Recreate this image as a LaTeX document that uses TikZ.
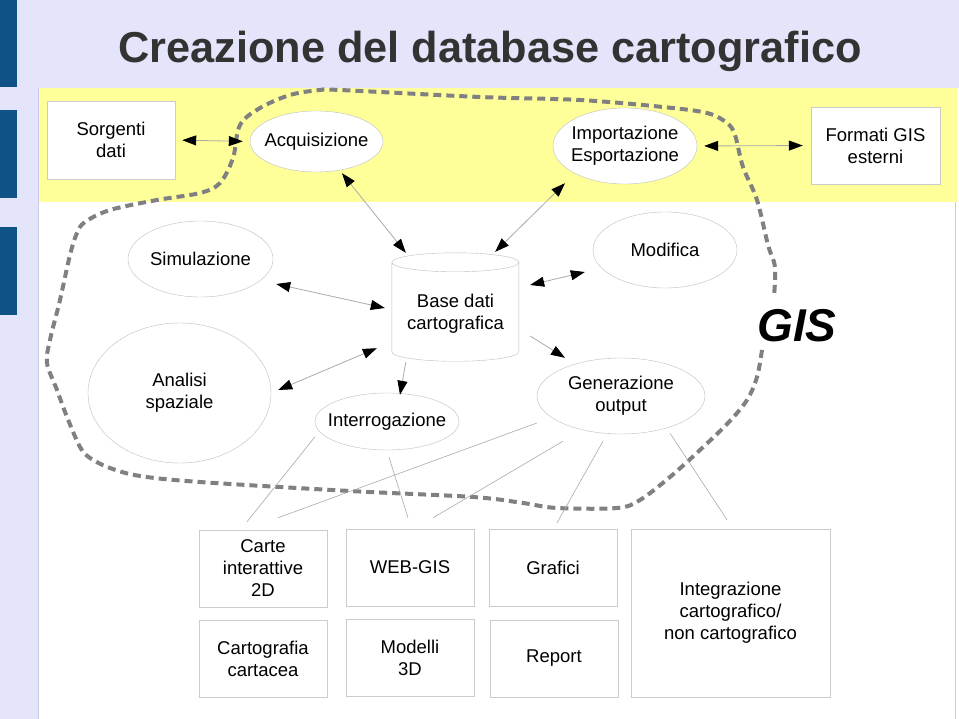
\documentclass[tikz,border=0pt]{standalone}
\usepackage{fontspec}
\setmainfont{Liberation Sans}
\usepackage{xcolor}
\usetikzlibrary{arrows.meta,shapes.geometric,calc}
\definecolor{lav}{RGB}{228,228,250}
\definecolor{lavline}{RGB}{200,200,232}
\definecolor{barblue}{RGB}{14,82,134}
\definecolor{band}{RGB}{255,255,153}
\definecolor{titlegray}{RGB}{51,51,51}
\definecolor{ellgray}{RGB}{190,190,190}
\definecolor{boxgray}{RGB}{204,204,204}
\definecolor{fencegray}{RGB}{128,128,128}
\definecolor{linegray}{RGB}{170,170,170}
\tikzset{
  ovl/.style={ellipse,draw=ellgray,fill=white,inner sep=0pt},
  txt/.style={align=center,inner sep=0pt,font=\fontsize{18.5}{22}\selectfont},
  crd/.style={draw=boxgray,fill=white,inner sep=0pt,align=center,font=\fontsize{18.5}{22}\selectfont},
  bi/.style={draw=linegray,line width=0.8pt,
    {Triangle[length=14pt,width=10pt,color=black]}-{Triangle[length=14pt,width=10pt,color=black]}},
  one/.style={draw=linegray,line width=0.8pt,-{Triangle[length=14pt,width=10pt,color=black]}},
  ray/.style={draw=linegray,line width=0.6pt},
  fence/.style={draw=fencegray,line width=4pt,dash pattern=on 8pt off 5pt}}
\newcommand{\gell}[6]{%
  \node[ovl,minimum width=#4pt,minimum height=#5pt] (#1) at (#2,#3) {};
  \node[txt] (#1-t) at (#1) {#6};}
\newcommand{\gcard}[6]{%
  \node[crd,minimum width=#4pt,minimum height=#5pt] (#1) at (#2,#3) {#6};}
\begin{document}
\begin{tikzpicture}[x=1pt,y=-1pt]
  \useasboundingbox (0,0) rectangle (959,719);
  \fill[lav] (0,0) rectangle (959,719);
  \fill[barblue] (0,0) rectangle (17,87);
  \fill[barblue] (0,110) rectangle (17,198);
  \fill[barblue] (0,227) rectangle (17,315);
  \fill[white] (38,88) rectangle (959,719);
  \fill[band] (38,88) rectangle (957,202);
  \draw[lavline] (38.5,88) -- (38.5,719);
  \draw[boxgray,line width=0.6pt] (955,202) -- (955,719);
  \node[font=\bfseries\fontsize{43.3}{50}\selectfont,text=titlegray,anchor=base] (title) at (490,63)
    {Creazione del database cartografico};

  \draw[fence] plot[smooth,tension=0.55] coordinates {(762,350) (757,377) (747,400) (728,423)
    (700,450) (670,477) (640,500) (617,508) (557,508) (523,503) (473,497) (350,491) (200,482)
    (140,476) (110,468) (90,458) (80,447) (67,417) (57,390) (47,363) (50,340) (60,300) (70,255)
    (77,233) (85,222) (110,210) (157,200) (200,193) (220,183) (233,158) (240,125) (260,108)
    (290,95) (320,90) (340,90) (480,97) (580,100) (663,107) (707,113) (727,123) (735,135)
    (743,167) (757,200) (768,245) (775,267) (774,296)};

  \gcard{sorg}{111}{140}{128}{78}{Sorgenti\\dati}
  \gell{acq}{316.5}{141.5}{133}{61}{Acquisizione}
  \gell{impesp}{625}{146}{144}{76}{Importazione\\Esportazione}
  \gcard{formati}{875.5}{145.5}{129}{77}{Formati GIS\\esterni}
  \gell{simul}{200.5}{259}{145}{76}{Simulazione}
  \gell{modif}{665}{250}{144}{76}{Modifica}
  \gell{analisi}{179.5}{393}{183}{140}{Analisi\\spaziale}
  \gell{interr}{387}{421.5}{144}{57}{Interrogazione}
  \gell{genout}{621}{396}{168}{76}{Generazione\\output}

  \node[inner sep=0pt,minimum width=127pt,minimum height=108pt] (db) at (455.5,307) {};
  \draw[draw=ellgray,fill=white] ($(db.north west)+(0,9.5)$) -- ++(0,89.5)
    arc[start angle=180,end angle=360,x radius=63.5pt,y radius=9.5pt] -- ++(0,-89.5)
    arc[start angle=0,end angle=180,x radius=63.5pt,y radius=9.5pt]
    arc[start angle=180,end angle=360,x radius=63.5pt,y radius=9.5pt];
  \node[txt] (db-t) at ($(db)+(0,7)$) {Base dati\\cartografica};

  \node[font=\bfseries\itshape\fontsize{46}{50}\selectfont,anchor=base] (gis) at (797,342) {GIS};

  \gcard{carte}{263}{568.5}{128}{77}{Carte\\interattive\\2D}
  \gcard{webgis}{410}{567.5}{128}{77}{WEB-GIS}
  \gcard{grafici}{553}{567.5}{128}{77}{Grafici}
  \gcard{cartac}{263}{658.5}{128}{77}{Cartografia\\cartacea}
  \gcard{modelli}{410}{657.5}{128}{77}{Modelli\\3D}
  \gcard{report}{554}{658.5}{128}{77}{Report}
  \gcard{integr}{730.5}{613}{199}{168}{Integrazione\\cartografico/\\non cartografico}

  \draw[bi,shorten <=7pt,shorten >=7pt] (sorg.east) -- (acq.west);
  \draw[bi,shorten <=7pt,shorten >=8pt] (impesp.east) -- (formati.west);
  \draw[bi] ($(acq.south)+(25.5,1)$) -- ($(db.north west)+(14,0)$);
  \draw[bi] ($(impesp.south)+(-60,-1)$) -- ($(db.north east)+(-24,-1)$);
  \draw[bi] ($(simul.east)+(3,25)$) -- ($(db.west)+(-7,1)$);
  \draw[bi] ($(db.east)+(11,-22)$) -- ($(modif.west)+(-8,22)$);
  \draw[bi] ($(db.south west)+(-15,-13)$) -- ($(analisi.east)+(7,-3)$);
  \draw[one] ($(db.south west)+(14,1)$) -- ($(interr.north)+(13,2)$);
  \draw[one] ($(db.east)+(11,29)$) -- ($(genout.north)+(-56,0)$);

  \draw[ray] ($(interr.west)+(0,15.5)$) -- ($(carte.north)+(-16,-8)$);
  \draw[ray] ($(genout.west)+(0,27)$) -- ($(carte.north)+(15,-12)$);
  \draw[ray] ($(interr.south)+(2,7)$) -- ($(webgis.north)+(-2,-11)$);
  \draw[ray] ($(genout.south)+(-58,7)$) -- ($(webgis.north)+(23,-11)$);
  \draw[ray] ($(genout.south)+(-18,7)$) -- ($(grafici.north)+(4,-6)$);
  \draw[ray] ($(genout.south)+(49,-1)$) -- ($(integr.north)+(-3.5,-9)$);
\end{tikzpicture}
\end{document}
